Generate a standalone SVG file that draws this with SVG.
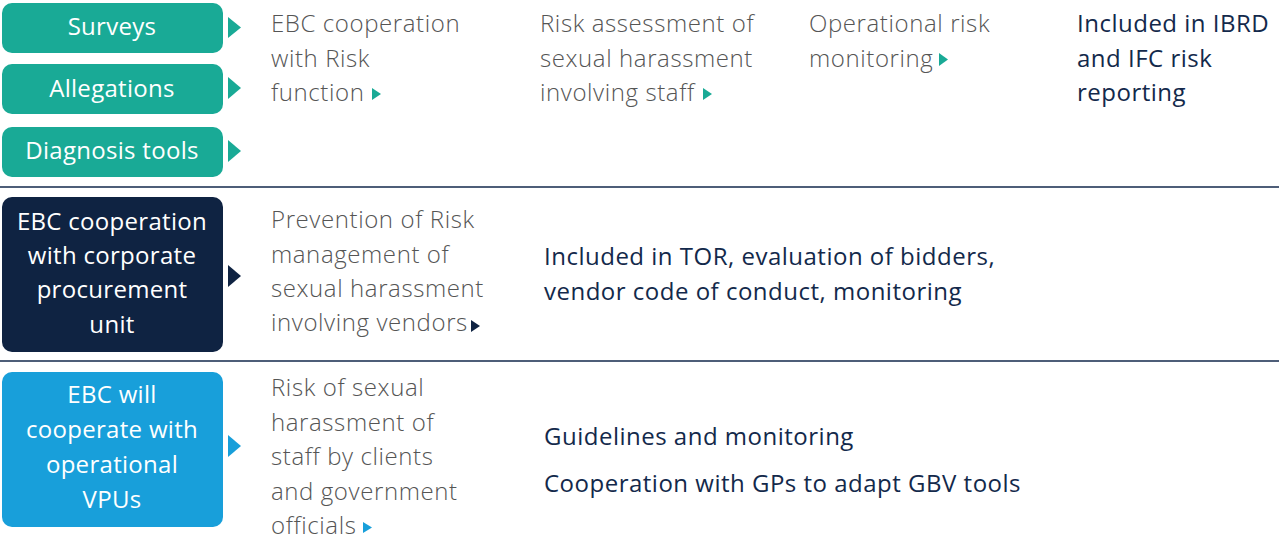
<svg xmlns="http://www.w3.org/2000/svg" width="1279" height="540" viewBox="0 0 1279 540">
<style>
.box text{font-family:"Open Sans","Liberation Sans",sans-serif;font-size:24px;fill:#fff;text-anchor:middle;letter-spacing:0.3px}
.g{font-family:"Open Sans","Liberation Sans",sans-serif;font-size:24px;font-weight:300;fill:#555;letter-spacing:0.6px}
.b{font-family:"Open Sans","Liberation Sans",sans-serif;font-size:24px;font-weight:500;fill:#13294b;letter-spacing:0.5px}
.teal{fill:#19aa96}.navy{fill:#0f2342}.blue{fill:#189fda}
.sep{stroke:#13294b;stroke-width:1.6}
</style>
<g id="separators">
<line class="sep" x1="0" y1="187" x2="1279" y2="187"/>
<line class="sep" x1="0" y1="361" x2="1279" y2="361"/>
</g>
<g id="surveys" class="box"><rect class="teal" x="2" y="3" width="221" height="50" rx="10"/><text x="112" y="35">Surveys</text></g>
<g id="allegations" class="box"><rect class="teal" x="2" y="64" width="221" height="50" rx="10"/><text x="112" y="97">Allegations</text></g>
<g id="diagnosis" class="box"><rect class="teal" x="2" y="127" width="221" height="50" rx="10"/><text x="112" y="159">Diagnosis tools</text></g>
<g id="procurement" class="box"><rect class="navy" x="2" y="197" width="221" height="155" rx="10"/>
<text x="112" y="230">EBC cooperation</text><text x="112" y="264">with corporate</text><text x="112" y="298">procurement</text><text x="112" y="333">unit</text></g>
<g id="vpus" class="box"><rect class="blue" x="2" y="372" width="221" height="155" rx="10"/>
<text x="112" y="403">EBC will</text><text x="112" y="438">cooperate with</text><text x="112" y="473">operational</text><text x="112" y="508">VPUs</text></g>
<g id="connectors">
<polygon class="teal" points="228,17 241,27.5 228,38"/>
<polygon class="teal" points="228,77 241,88 228,99"/>
<polygon class="teal" points="228,140 241,151 228,162"/>
<polygon class="navy" points="228,265 241,276 228,287"/>
<polygon class="blue" points="228,435 241,446 228,457"/>
<polygon class="teal" points="372,88 381,94 372,100"/>
<polygon class="teal" points="703,88 712,94 703,100"/>
<polygon class="teal" points="939,53 948,59.5 939,66"/>
<polygon class="navy" points="471,320 480,326 471,332"/>
<polygon class="blue" points="363,522 372,527.5 363,533"/>
</g>
<g id="risk-function"><text class="g" x="271" y="32">EBC cooperation</text><text class="g" x="271" y="67">with Risk</text><text class="g" x="271" y="101">function</text></g>
<g id="risk-assessment"><text class="g" x="540" y="32">Risk assessment of</text><text class="g" x="540" y="67">sexual harassment</text><text class="g" x="540" y="101">involving staff</text></g>
<g id="operational-risk"><text class="g" x="809" y="32">Operational risk</text><text class="g" x="809" y="67">monitoring</text></g>
<g id="ibrd-ifc"><text class="b" x="1077" y="32">Included in IBRD</text><text class="b" x="1077" y="67">and IFC risk</text><text class="b" x="1077" y="101">reporting</text></g>
<g id="vendors"><text class="g" x="271" y="228">Prevention of Risk</text><text class="g" x="271" y="263">management of</text><text class="g" x="271" y="297">sexual harassment</text><text class="g" x="271" y="331">involving vendors</text></g>
<g id="tor"><text class="b" x="544" y="265">Included in TOR, evaluation of bidders,</text><text class="b" x="544" y="300">vendor code of conduct, monitoring</text></g>
<g id="clients"><text class="g" x="271" y="396">Risk of sexual</text><text class="g" x="271" y="431">harassment of</text><text class="g" x="271" y="465">staff by clients</text><text class="g" x="271" y="500">and government</text><text class="g" x="271" y="534">officials</text></g>
<g id="guidelines"><text class="b" x="544" y="445">Guidelines and monitoring</text><text class="b" x="544" y="492">Cooperation with GPs to adapt GBV tools</text></g>
</svg>
